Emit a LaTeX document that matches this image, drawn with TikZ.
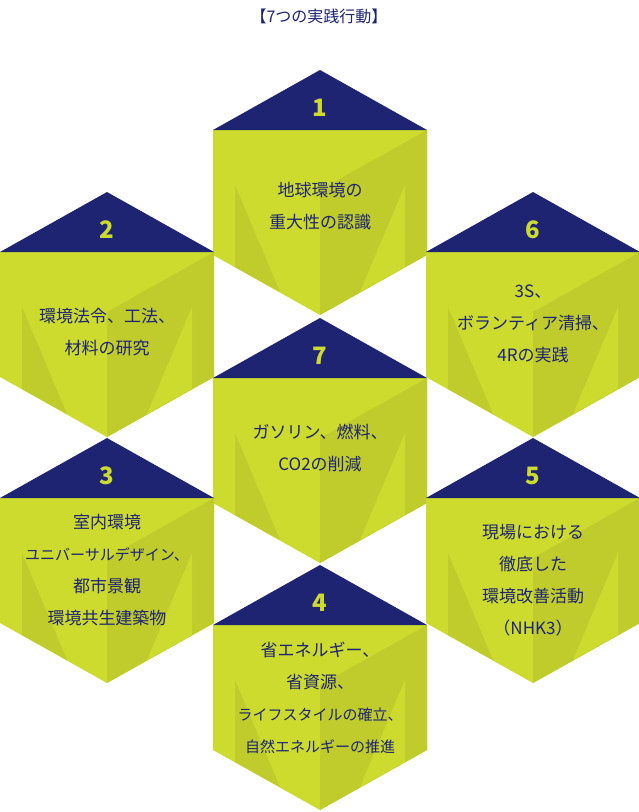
\documentclass[tikz,border=0pt]{standalone}
\usepackage{fontspec}
\setmainfont{Noto Sans CJK JP}
\usetikzlibrary{positioning}
\definecolor{navy}{HTML}{1F2472}
\definecolor{lime}{HTML}{CCDB2E}
\definecolor{limed}{HTML}{BFCC2C}
\begin{document}
\begin{tikzpicture}[x=1pt,y=-1pt,
    num/.style={text=lime, font=\fontsize{24}{24}\selectfont\bfseries},
    txt/.style={text=navy, align=center, font=\fontsize{17}{32}\selectfont},
    stxt/.style={text=navy, align=center, font=\fontsize{15}{30}\selectfont}
]
\useasboundingbox (0,0) rectangle (638,812);
\node[text=navy, font=\fontsize{16}{16}\selectfont] (title) at (319,16) {【7つの実践行動】};

% hexagons: name / centre x / apex y
\foreach \n/\cx/\ty in {1/320/70, 2/107/192, 6/533/192, 7/320/318, 3/107/438, 5/533/438, 4/320/565} {
  \fill[lime] (\cx-107,\ty+60) -- (\cx+107,\ty+60) -- (\cx+107,\ty+185) -- (\cx,\ty+245) -- (\cx-107,\ty+185) -- cycle;
  \fill[limed] (\cx+107,\ty+60) -- (\cx,\ty+120) -- (\cx,\ty+245) -- (\cx+107,\ty+185) -- cycle;
  \fill[lime] (\cx+85,\ty+115) -- (\cx+85,\ty+197) -- (\cx+40,\ty+222) -- cycle;
  \fill[limed] (\cx-85,\ty+115) -- (\cx-85,\ty+197) -- (\cx-40,\ty+222) -- cycle;
  \fill[navy] (\cx,\ty) -- (\cx+107,\ty+60) -- (\cx-107,\ty+60) -- cycle;
  \node[num] (n\n) at (\cx,\ty+38) {\n};
}

\node[txt] (t1) at (320,206) {地球環境の\\重大性の認識};
\node[txt] (t2) at (107,332) {環境法令、工法、\\材料の研究};
\node[txt] (t6) at (533,324) {3S、\\ボランティア清掃、\\4Rの実践};
\node[txt] (t7) at (320,448) {ガソリン、燃料、\\CO2の削減};
\node[txt] (t3) at (107,570) {室内環境\\{\fontsize{15}{15}\selectfont ユニバーサルデザイン、}\\都市景観\\環境共生建築物};
\node[txt] (t5) at (533,580) {現場における\\徹底した\\環境改善活動\\（NHK3）};
\node[txt] (t4) at (320,698) {省エネルギー、\\省資源、\\{\fontsize{15}{15}\selectfont ライフスタイルの確立、}\\{\fontsize{15}{15}\selectfont 自然エネルギーの推進}};
\end{tikzpicture}
\end{document}
